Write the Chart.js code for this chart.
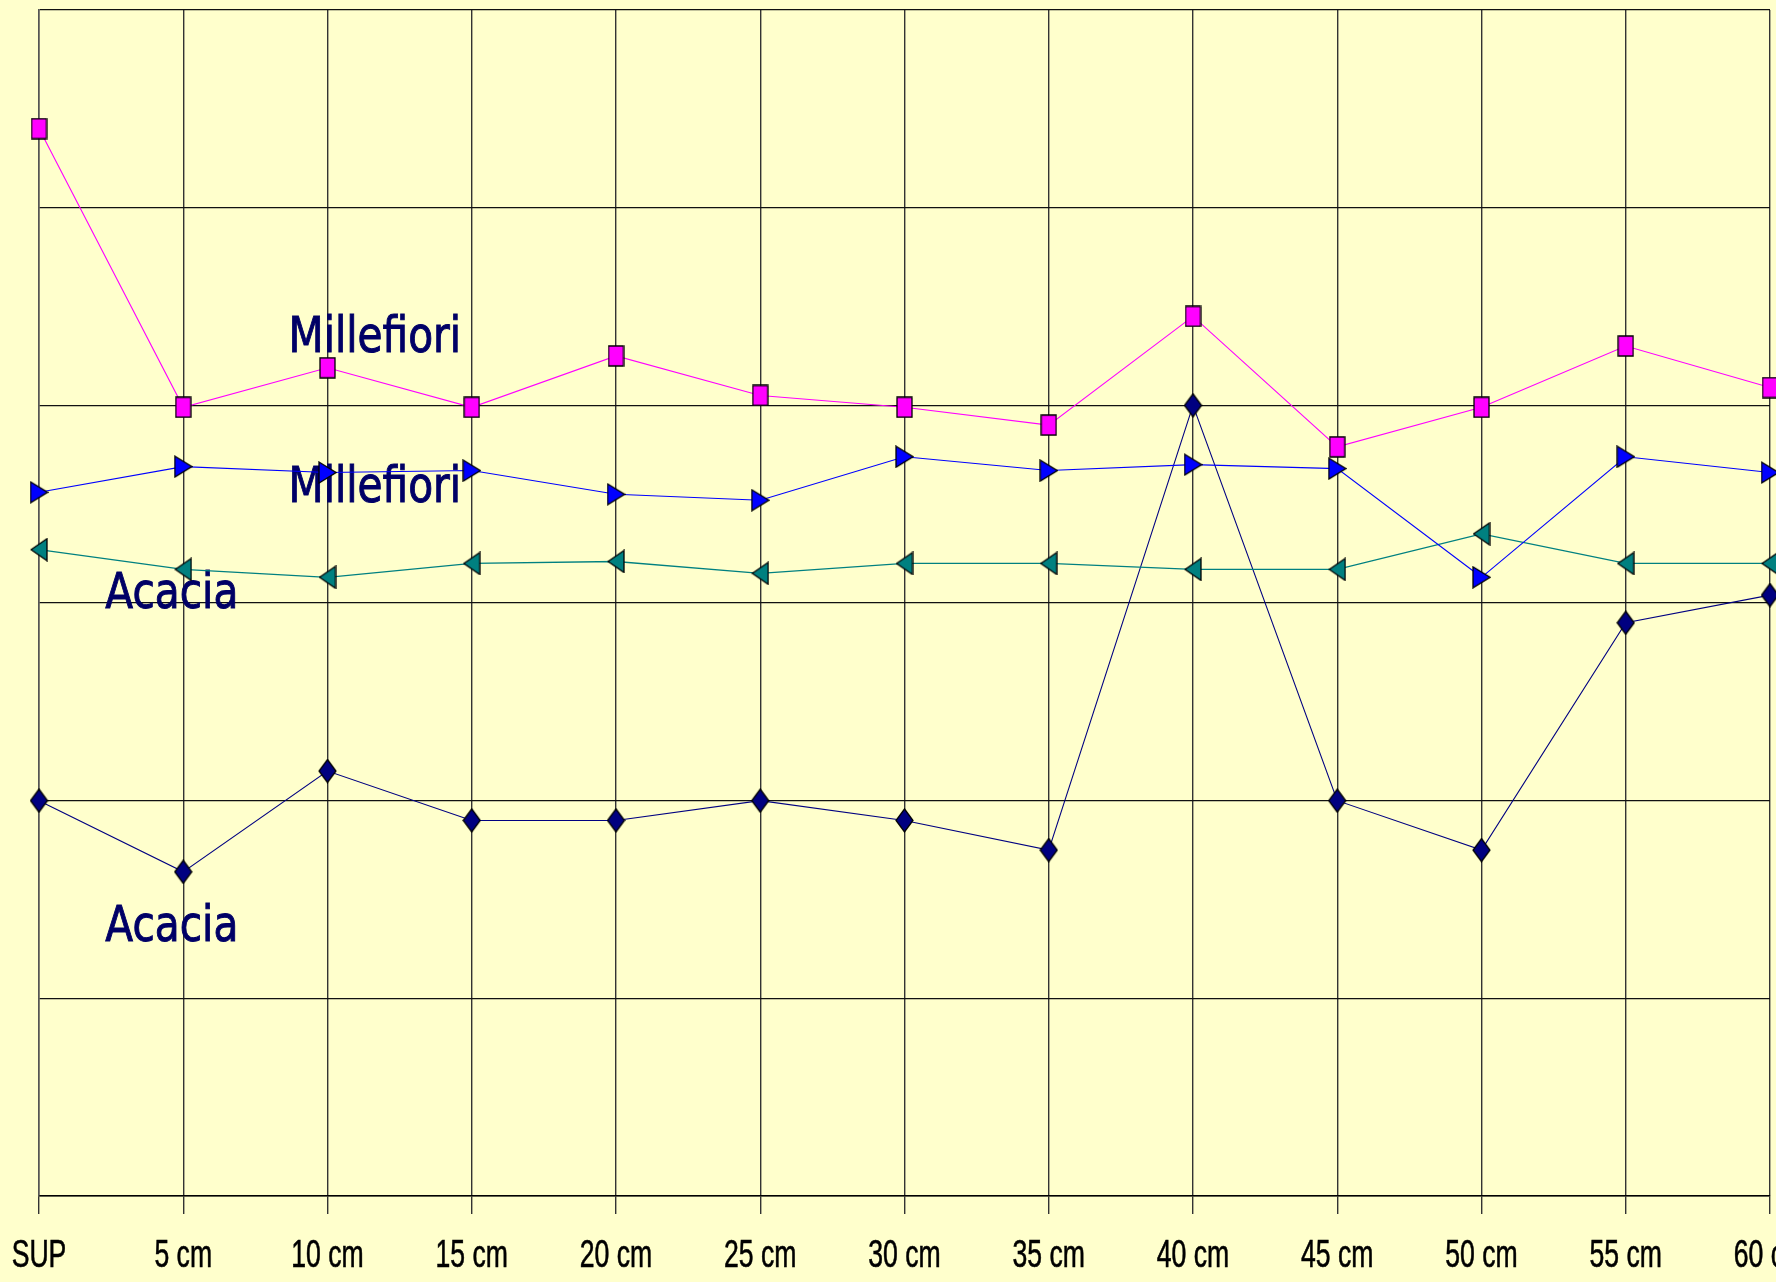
<!DOCTYPE html>
<html>
<head>
<meta charset="utf-8">
<script src="https://cdn.jsdelivr.net/npm/chart.js@4/dist/chart.umd.min.js"></script>
<style>
  html, body { margin: 0; padding: 0; background: #FFFFCC; overflow: hidden; }
  #wrap { position: relative; width: 1776px; height: 1282px; }
</style>
</head>
<body>
<div id="wrap"><canvas id="c" width="1776" height="1282"></canvas></div>
<script>
// Sampling depths along the profile
const depths = ['SUP', '5 cm', '10 cm', '15 cm', '20 cm', '25 cm', '30 cm', '35 cm', '40 cm', '45 cm', '50 cm', '55 cm', '60 cm'];

// Readings per depth (grid units 0..6)
const millefioriSquares   = [5.40, 3.99, 4.19, 3.99, 4.25, 4.05, 3.99, 3.90, 4.45, 3.79, 3.99, 4.30, 4.09];
const millefioriTriangles = [3.56, 3.69, 3.66, 3.67, 3.55, 3.52, 3.74, 3.67, 3.70, 3.68, 3.13, 3.74, 3.66];
const acaciaTriangles     = [3.27, 3.17, 3.13, 3.20, 3.21, 3.15, 3.20, 3.20, 3.17, 3.17, 3.35, 3.20, 3.20];
const acaciaDiamonds      = [2.00, 1.64, 2.15, 1.90, 1.90, 2.00, 1.90, 1.75, 4.00, 2.00, 1.75, 2.90, 3.04];

// Series captions written inside the plot
const captionTexts = ['Millefiori', 'Millefiori', 'Acacia', 'Acacia'];

// Marker sprites
function marker(w, h, fill, pathFn) {
  const c = document.createElement('canvas');
  c.width = w + 2; c.height = h + 2;
  const g = c.getContext('2d');
  g.translate(1, 1);
  g.beginPath();
  pathFn(g, w, h);
  g.closePath();
  g.fillStyle = fill;
  g.fill();
  g.lineWidth = 1.3;
  g.strokeStyle = '#000';
  g.stroke();
  return c;
}
const squareMark = marker(15, 20, '#FF00FF', (g, w, h) => { g.rect(0, 0, w, h); });
const rightTri = marker(17, 21, '#0000FF', (g, w, h) => { g.moveTo(0, 0); g.lineTo(w, h / 2); g.lineTo(0, h); });
const leftTri = marker(16, 22, '#008080', (g, w, h) => { g.moveTo(w, 0); g.lineTo(0, h / 2); g.lineTo(w, h); });
const diamond = marker(17, 23, '#000080', (g, w, h) => { g.moveTo(w / 2, 0); g.lineTo(w, h / 2); g.lineTo(w / 2, h); g.lineTo(0, h / 2); });

const bgPlugin = {
  id: 'bg',
  beforeDraw(chart) {
    const ctx = chart.ctx;
    ctx.save();
    ctx.fillStyle = '#FFFFCC';
    ctx.fillRect(0, 0, chart.width, chart.height);
    ctx.restore();
  }
};

// Captions placed by category position / value on the plot
const captionPlugin = {
  id: 'captions',
  beforeDatasetsDraw(chart) {
    const xs = chart.scales.x, ys = chart.scales.y, ctx = chart.ctx;
    const anchors = [[1.73, 4.27], [1.73, 3.51], [0.46, 2.975], [0.46, 1.29]];
    ctx.save();
    ctx.font = '49px "DejaVu Sans"';
    ctx.fillStyle = '#000066';
    ctx.strokeStyle = '#000066';
    ctx.lineWidth = 1;
    ctx.textAlign = 'left';
    ctx.textBaseline = 'alphabetic';
    captionTexts.forEach((t, i) => {
      const x0 = xs.getPixelForTick(0);
      const step = xs.getPixelForTick(1) - x0;
      const px = x0 + anchors[i][0] * step;
      const py = ys.getPixelForValue(anchors[i][1]);
      ctx.save();
      ctx.translate(px, py);
      ctx.scale(0.83, 1);
      ctx.fillText(t, 0, 0);
      ctx.strokeText(t, 0, 0);
      ctx.restore();
    });
    ctx.restore();
  }
};

// Narrow depth labels under the axis
const depthLabels = {
  id: 'depthLabels',
  afterDraw(chart) {
    const xs = chart.scales.x, ctx = chart.ctx;
    ctx.save();
    ctx.font = '38px "Liberation Sans", Arial, sans-serif';
    ctx.fillStyle = '#000';
    ctx.strokeStyle = '#000';
    ctx.lineWidth = 0.6;
    ctx.textAlign = 'center';
    ctx.textBaseline = 'alphabetic';
    depths.forEach((lab, i) => {
      ctx.save();
      ctx.translate(xs.getPixelForTick(i), xs.top + 71);
      ctx.scale(0.7, 1);
      ctx.fillText(lab, 0, 0);
      ctx.strokeText(lab, 0, 0);
      ctx.restore();
    });
    ctx.restore();
  }
};

function series(data, color, style, width) {
  return {
    data: data,
    borderColor: color,
    backgroundColor: color,
    borderWidth: width,
    pointStyle: style,
    pointRadius: 8,
    pointHoverRadius: 8,
    tension: 0,
    clip: false
  };
}

new Chart(document.getElementById('c'), {
  type: 'line',
  data: {
    labels: depths,
    datasets: [
      series(millefioriSquares, '#FF00FF', squareMark, 1.1),
      series(millefioriTriangles, '#0000FF', rightTri, 1.1),
      series(acaciaTriangles, '#008080', leftTri, 1.3),
      series(acaciaDiamonds, '#000080', diamond, 1.1)
    ]
  },
  options: {
    responsive: false,
    animation: false,
    devicePixelRatio: 1,
    layout: { autoPadding: false, padding: { left: 39, right: 6, top: 10, bottom: 68 } },
    plugins: { legend: { display: false }, tooltip: { enabled: false } },
    scales: {
      x: {
        offset: false,
        grid: { color: '#333', lineWidth: 1.4, tickLength: 18, drawTicks: true, tickColor: '#333' },
        border: { display: true, color: '#000', width: 1.4 },
        ticks: { display: false }
      },
      y: {
        min: 0, max: 6,
        ticks: { display: false, stepSize: 1 },
        grid: { color: '#111', lineWidth: 1.2, drawTicks: false },
        border: { display: true, color: '#555', width: 1.5 }
      }
    }
  },
  plugins: [bgPlugin, captionPlugin, depthLabels]
});
</script>
</body>
</html>
